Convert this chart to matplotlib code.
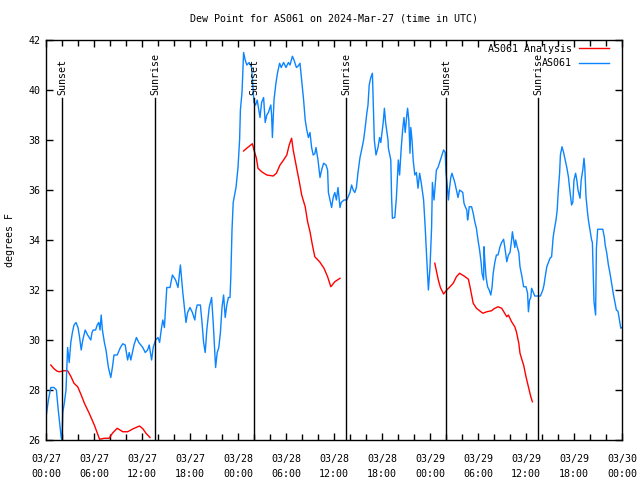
import numpy as np
import matplotlib
matplotlib.use("Agg")
import matplotlib.pyplot as plt

nan = np.nan

# hours since 2024-03-27 00:00 UTC
blue_hours = [0.0, 0.3, 0.6, 1.0, 1.3, 1.5, 1.7, 1.9, 2.0, 2.1, 2.3, 2.5, 2.7, 2.9, 3.1, 3.3, 3.5, 3.75,
              4.0, 4.2, 4.4, 4.6, 4.9, 5.2, 5.6, 5.75, 5.9, 6.2, 6.4, 6.6, 6.75, 6.9, 7.05, 7.3, 7.5, 7.8,
              8.1, 8.3, 8.5, 8.9, 9.3, 9.6, 9.9, 10.2, 10.4, 10.6, 10.8, 11.0, 11.3, 11.6, 12.1, 12.4,
              12.7, 12.9, 13.2, 13.4, 13.7, 14.0, 14.2, 14.4, 14.6, 14.8, 15.1, 15.5, 15.8, 16.2, 16.5,
              16.8, 17.1, 17.3, 17.5, 17.7, 18.0, 18.3, 18.6, 18.75, 18.9, 19.3, 19.5, 19.7, 19.9, 20.1,
              20.4, 20.7, 20.9, 21.2, 21.4, 21.6, 21.8, 22.0, 22.2, 22.4, 22.6, 22.8, 23.0, 23.1, 23.25,
              23.4, 23.75, 24.0, 24.2, 24.3, 24.5, 24.7, 24.9, 25.1, 25.4, 25.7, 25.85, 26.0, 26.2, 26.4,
              26.6, 26.75, 26.95, 27.2, 27.4, 27.6, 27.8, 28.1, 28.2, 28.3, 28.5, 28.75, 28.95, 29.2,
              29.4, 29.7, 30.0, 30.3, 30.5, 30.8, 31.0, 31.3, 31.5, 31.75, 31.96, 32.2, 32.4, 32.6, 32.8,
              33.0, 33.2, 33.4, 33.6, 33.75, 34.0, 34.25, 34.45, 34.7, 35.0, 35.2, 35.3, 35.5, 35.7, 35.9,
              36.1, 36.3, 36.5, 36.75, 36.9, 37.25, 37.6, 38.0, 38.2, 38.4, 38.6, 38.8, 39.0, 39.25,
              39.45, 39.7, 39.9, 40.1, 40.25, 40.4, 40.6, 40.8, 40.9, 41.04, 41.25, 41.5, 41.7, 41.85,
              42.0, 42.15, 42.3, 42.45, 42.75, 42.8, 43.1, 43.2, 43.3, 43.6, 43.8, 44.04, 44.2, 44.4,
              44.6, 44.75, 44.9, 45.1, 45.2, 45.35, 45.5, 45.6, 45.75, 45.9, 46.1, 46.3, 46.5, 46.7,
              46.9, 47.2, 47.4, 47.6, 47.8, 48.0, 48.2, 48.3, 48.5, 48.65, 48.8, 49.0, 49.3, 49.5, 49.7,
              49.9, 50.0, 50.2, 50.3, 50.45, 50.6, 50.75, 51.0, 51.1, 51.3, 51.5, 51.7, 51.9, 52.1,
              52.25, 52.45, 52.6, 52.7, 52.8, 52.9, 53.2, 53.4, 53.6, 53.8, 54.0, 54.2, 54.4, 54.5,
              54.7, 54.75, 54.85, 55.0, 55.2, 55.4, 55.6, 55.75, 55.9, 56.1, 56.3, 56.5, 56.75, 56.95,
              57.2, 57.4, 57.6, 57.8, 58.0, 58.2, 58.3, 58.45, 58.6, 58.7, 58.9, 59.1, 59.25, 59.5,
              59.7, 60.0, 60.2, 60.3, 60.45, 60.6, 60.7, 60.85, 61.1, 61.5, 61.8, 62.1, 62.25, 62.4,
              62.6, 62.8, 63.0, 63.2, 63.3, 63.4, 63.6, 63.75, 63.9, 64.04, 64.2, 64.3, 64.5, 64.7,
              64.9, 65.1, 65.3, 65.5, 65.7, 65.85, 66.0, 66.2, 66.35, 66.5, 66.75, 66.9, 67.1, 67.25,
              67.35, 67.5, 67.7, 67.8, 68.0, 68.2, 68.3, 68.4, 68.5, 68.7, 68.8, 68.96, 69.6, 69.8,
              69.9, 70.1, 70.3, 70.5, 70.7, 70.9, 71.1, 71.3, 71.5, 71.75, 71.85, 72.0]
blue_dew = [26.9, 27.6, 28.1, 28.1, 28.0, 27.3, 26.7, 26.1, 26.0, 27.1, 27.5, 28.0, 29.7, 29.1, 29.9,
            30.3, 30.6, 30.7, 30.5, 30.1, 29.6, 30.0, 30.4, 30.2, 30.0, 30.3, 30.4, 30.4, 30.6, 30.7,
            30.4, 31.0, 30.4, 29.9, 29.6, 28.9, 28.5, 28.9, 29.4, 29.4, 29.7, 29.85, 29.8, 29.2, 29.5,
            29.2, 29.5, 29.8, 30.1, 29.9, 29.7, 29.5, 29.6, 29.8, 29.2, 29.7, 30.0, 30.1, 29.9, 30.4,
            30.8, 30.5, 32.1, 32.1, 32.6, 32.4, 32.1, 33.0, 31.9, 31.3, 30.7, 31.1, 31.3, 31.1, 30.8,
            31.2, 31.4, 31.4, 30.7, 29.9, 29.5, 30.4, 31.3, 31.7, 30.7, 28.9, 29.5, 29.7, 30.3, 31.3,
            31.8, 30.9, 31.4, 31.7, 31.7, 32.5, 34.4, 35.5, 36.1, 36.9, 38.0, 39.2, 39.9, 41.5, 41.2,
            41.0, 41.1, 40.9, 40.2, 39.5, 39.4, 39.6, 39.2, 38.9, 39.5, 39.7, 38.7, 39.0, 39.1, 39.4,
            39.0, 38.1, 39.6, 40.3, 40.7, 41.07, 40.9, 41.1, 40.9, 41.1, 41.0, 41.35, 41.2, 40.9, 40.95,
            41.07, 40.4, 39.6, 38.8, 38.4, 38.1, 38.3, 37.7, 37.4, 37.45, 37.7, 37.2, 36.5, 36.8, 37.07,
            37.0, 36.8, 35.9, 35.6, 35.3, 35.7, 35.9, 35.6, 36.1, 35.3, 35.5, 35.6, 35.6, 35.9, 36.2,
            36.0, 35.9, 36.1, 36.7, 37.3, 37.6, 38.0, 38.5, 39.07, 39.4, 40.2, 40.5, 40.67, 39.6, 38.0,
            37.4, 37.7, 38.1, 37.9, 38.3, 38.7, 39.27, 38.7, 38.0, 37.67, 37.2, 35.7, 34.87, 34.9, 35.7,
            37.2, 36.6, 37.67, 38.47, 38.9, 38.3, 39.0, 39.27, 38.8, 37.47, 38.5, 38.0, 37.2, 36.6,
            36.7, 36.07, 36.67, 36.3, 35.6, 34.5, 33.2, 32.0, 32.9, 34.5, 36.3, 35.6, 36.2, 36.8, 36.9,
            37.2, 37.4, 37.6, 37.5, 36.7, 36.0, 35.6, 36.1, 36.5, 36.67, 36.4, 36.3, 36.0, 35.7, 36.0,
            35.95, 35.9, 35.47, 35.3, 35.2, 34.8, 35.0, 35.33, 35.33, 35.07, 34.73, 34.47, 34.0, 33.6,
            33.07, 32.67, 32.4, 33.73, 33.2, 32.53, 32.13, 32.0, 31.8, 32.1, 32.67, 33.1, 33.4, 33.4,
            33.73, 33.9, 34.03, 33.6, 33.13, 33.4, 33.5, 34.0, 34.33, 34.0, 33.7, 34.0, 33.73, 33.5,
            32.93, 32.53, 32.13, 32.13, 31.87, 31.13, 31.6, 31.7, 32.07, 31.95, 31.76, 31.76, 31.76,
            32.0, 32.2, 32.53, 32.93, 33.1, 33.27, 33.33, 33.73, 34.13, 34.53, 34.8, 35.2, 36.0, 36.67,
            37.4, 37.73, 37.5, 37.2, 36.9, 36.53, 35.93, 35.4, 35.5, 36.4, 36.67, 36.4, 36.0, 35.67,
            36.4, 36.8, 37.27, 36.9, 35.73, 35.07, 34.8, 34.4, 34.0, 33.9, 32.67, 31.53, 31.0, 33.67,
            34.43, 34.43, 34.1, 33.8, 33.47, 33.0, 32.67, 32.27, 31.87, 31.53, 31.2, 31.15, 30.67,
            30.47, 30.5]

red_hours = [0.6, 1.0, 1.4, 1.7, 2.2, 2.7, 3.1, 3.5, 3.96, 4.4, 4.8, 5.4, 6.04, 6.5, 6.7, 7.3, 7.9,
             8.3, 8.9, 9.6, 10.2, 10.9, 11.7, 12.1, 12.5, 13.0, 13.5,
             24.7, 25.2, 25.8, 26.0, 26.3, 26.5, 26.96, 27.6, 28.4, 28.8, 29.25, 29.7, 30.1, 30.4,
             30.7, 30.9, 31.3, 31.7, 31.96, 32.4, 32.7, 33.0, 33.3, 33.6, 34.2, 34.75, 35.2, 35.6,
             36.1, 36.75, 37.0,
             48.6, 49.04, 49.3, 49.7, 50.1, 50.5, 50.9, 51.3, 51.7, 52.3, 52.8, 53.0, 53.4, 53.8,
             54.6, 55.1, 55.7, 56.0, 56.5, 56.96, 57.6, 57.8, 58.2, 58.6, 58.8, 59.1, 59.25, 59.5,
             59.7, 60.0, 60.3, 60.6, 60.8]
red_dew = [29.0, 28.85, 28.75, 28.73, 28.77, 28.77, 28.55, 28.27, 28.13, 27.8, 27.47, 27.07, 26.6,
           26.2, 26.03, 26.07, 26.07, 26.27, 26.47, 26.33, 26.33, 26.45, 26.56, 26.45, 26.27, 26.1, nan,
           37.56, 37.7, 37.85, 37.6, 37.27, 36.87, 36.73, 36.6, 36.56, 36.67, 37.0, 37.2, 37.4, 37.8,
           38.07, 37.6, 36.93, 36.27, 35.8, 35.33, 34.73, 34.33, 33.8, 33.33, 33.13, 32.87, 32.53,
           32.13, 32.33, 32.47, nan,
           33.07, 32.4, 32.1, 31.84, 32.0, 32.13, 32.27, 32.53, 32.67, 32.55, 32.43, 32.13, 31.47,
           31.27, 31.07, 31.13, 31.17, 31.25, 31.33, 31.27, 30.93, 31.0, 30.73, 30.53, 30.33, 29.87,
           29.47, 29.2, 29.0, 28.53, 28.13, 27.73, 27.53]

event_hours = [2.04, 13.67, 26.04, 37.54, 50.04, 61.54]
event_names = ["Sunset", "Sunrise", "Sunset", "Sunrise", "Sunset", "Sunrise"]

tick_labels = ["03/27\n00:00", "03/27\n06:00", "03/27\n12:00", "03/27\n18:00",
               "03/28\n00:00", "03/28\n06:00", "03/28\n12:00", "03/28\n18:00",
               "03/29\n00:00", "03/29\n06:00", "03/29\n12:00", "03/29\n18:00",
               "03/30\n00:00"]

plt.rcParams['font.family'] = 'DejaVu Sans Mono'
fs = 7.2

fig = plt.figure(figsize=(6.4, 4.8), dpi=100)
ax = fig.add_axes([46 / 640, 40 / 480, 576 / 640, 400 / 480])

ax.plot(red_hours, red_dew, color='#ff0000', lw=1.0, label='AS061 Analysis')
ax.plot(blue_hours, blue_dew, color='#0a84ff', lw=1.0, label='AS061')

for h, name in zip(event_hours, event_names):
    ax.plot([h, h], [26, 39.68], color='black', lw=1.0)
    ax.text(h, 39.8, name, rotation=90, ha='center', va='bottom', fontsize=fs)

ax.set_xlim(0, 72)
ax.set_ylim(26, 42)
ax.set_xticks(np.arange(0, 73, 6))
ax.set_xticks(np.arange(0, 73, 2), minor=True)
ax.set_xticklabels(tick_labels)
ax.set_yticks(np.arange(26, 43, 2))
ax.tick_params(which='both', direction='in', top=True, right=True, labelsize=fs)
ax.tick_params(which='major', length=5, width=1)
ax.tick_params(which='minor', length=4, width=1)
ax.tick_params(axis='x', pad=10)
ax.tick_params(axis='y', pad=4)
for t in ax.get_xticklabels():
    t.set_linespacing(1.6)
for s in ax.spines.values():
    s.set_linewidth(1)

ax.set_title('Dew Point for AS061 on 2024-Mar-27 (time in UTC)', fontsize=fs, pad=13)
fig.text(10 / 640, 0.5, 'degrees F', rotation=90, ha='center', va='center', fontsize=fs)

ax.legend(loc='upper right', bbox_to_anchor=(0.977, 0.99), frameon=False, markerfirst=False,
          fontsize=fs, handlelength=3.0, handletextpad=0.7, labelspacing=0.45,
          borderaxespad=0, borderpad=0)

fig.savefig('out.png', dpi=100)
